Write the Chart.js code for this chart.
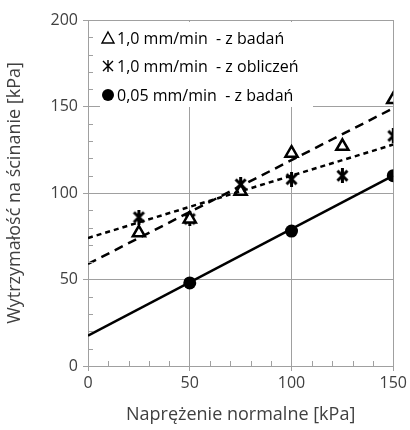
<!DOCTYPE html>
<html>
<head>
<meta charset="utf-8">
<script src="https://cdn.jsdelivr.net/npm/chart.js@4/dist/chart.umd.min.js"></script>
<style>
  html, body { margin: 0; padding: 0; background: #fff; }
  #wrap { width: 410px; height: 430px; position: relative; }
</style>
</head>
<body>
<div id="wrap"><canvas id="chart" width="410" height="430"></canvas></div>
<script>
// pomiary
const stress = [25, 50, 75, 100, 125, 150];
const badan10 = [77, 85, 101, 123, 127, 154];
const oblicz10 = [86, 85, 105, 108, 110, 133];
const stress005 = [50, 100, 150];
const badan005 = [48, 78, 110];

// linie trendu
const trendX = [0, 150];
const trendBadan10 = [59, 149];
const trendOblicz10 = [74, 128];
const trendBadan005 = [17.5, 110];

const labels = ['1,0 mm/min  - z badań', '1,0 mm/min  - z obliczeń', '0,05 mm/min  - z badań'];

const FONT = "'Open Sans', sans-serif";
const GRID = '#a0a0a0';

const pts = (xs, ys) => xs.map((x, i) => ({ x, y: ys[i] }));

function asteriskMarker(size, lw) {
    const c = document.createElement('canvas');
    c.width = size; c.height = size;
    const g = c.getContext('2d');
    g.strokeStyle = '#000';
    g.lineWidth = lw;
    const m = lw / 2, s = size - m;
    g.beginPath();
    g.moveTo(size / 2, 0); g.lineTo(size / 2, size);
    g.moveTo(m + 1, m + 1); g.lineTo(s - 1, s - 1);
    g.moveTo(s - 1, m + 1); g.lineTo(m + 1, s - 1);
    g.stroke();
    return c;
}
const astBig = asteriskMarker(15, 3);

const legendBox = {
    id: 'legendBox',
    afterDatasetsDraw(chart) {
        const { ctx, chartArea } = chart;
        const x0 = chartArea.left + 12, y0 = chartArea.top + 2;
        ctx.save();
        ctx.fillStyle = '#fff';
        ctx.fillRect(x0, y0, 213, 85);
        ctx.font = '16px ' + FONT;
        ctx.fillStyle = '#000';
        ctx.textBaseline = 'middle';
        const rows = [y0 + 16, y0 + 44, y0 + 73];
        const mx = x0 + 8;
        ctx.strokeStyle = '#000';
        ctx.lineWidth = 1.4;
        // trójkąt
        ctx.beginPath();
        ctx.moveTo(mx, rows[0] - 6); ctx.lineTo(mx + 6, rows[0] + 5); ctx.lineTo(mx - 6, rows[0] + 5); ctx.closePath();
        ctx.stroke();
        // gwiazdka
        ctx.beginPath();
        ctx.moveTo(mx, rows[1] - 6); ctx.lineTo(mx, rows[1] + 6);
        ctx.moveTo(mx - 5, rows[1] - 5); ctx.lineTo(mx + 5, rows[1] + 5);
        ctx.moveTo(mx + 5, rows[1] - 5); ctx.lineTo(mx - 5, rows[1] + 5);
        ctx.stroke();
        // kółko
        ctx.beginPath();
        ctx.arc(mx, rows[2], 6, 0, Math.PI * 2);
        ctx.fill();
        labels.forEach((t, i) => ctx.fillText(t, x0 + 17, rows[i] + 1));
        ctx.restore();
    }
};

const minorTicks = {
    id: 'minorTicks',
    afterDraw(chart) {
        const { ctx, chartArea, scales } = chart;
        ctx.save();
        ctx.strokeStyle = GRID;
        ctx.lineWidth = 1;
        ctx.beginPath();
        for (let v = 10; v < 200; v += 10) {
            if (v % 50 === 0) continue;
            const y = Math.round(scales.y.getPixelForValue(v)) + 0.5;
            ctx.moveTo(chartArea.left, y); ctx.lineTo(chartArea.left + 5, y);
        }
        for (let v = 10; v < 150; v += 10) {
            if (v % 50 === 0) continue;
            const x = Math.round(scales.x.getPixelForValue(v)) + 0.5;
            ctx.moveTo(x, chartArea.bottom); ctx.lineTo(x, chartArea.bottom - 5);
        }
        ctx.stroke();
        ctx.restore();
    }
};

new Chart(document.getElementById('chart'), {
    type: 'scatter',
    data: {
        datasets: [
            { label: 'trend1', data: pts(trendX, trendBadan10), showLine: true, borderColor: '#000', borderWidth: 2.5, borderDash: [9, 6], pointRadius: 0 },
            { label: 'trend2', data: pts(trendX, trendOblicz10), showLine: true, borderColor: '#000', borderWidth: 2.5, borderDash: [5, 4], pointRadius: 0 },
            { label: 'trend3', data: pts(trendX, trendBadan005), showLine: true, borderColor: '#000', borderWidth: 2.5, pointRadius: 0 },
            { label: labels[0], data: pts(stress, badan10), pointStyle: 'triangle', pointRadius: 7, borderColor: '#000', backgroundColor: '#fff', borderWidth: 2.5 },
            { label: labels[1], data: pts(stress, oblicz10), pointStyle: astBig, borderColor: '#000' },
            { label: labels[2], data: pts(stress005, badan005), pointStyle: 'circle', pointRadius: 6.5, borderColor: '#000', backgroundColor: '#000', borderWidth: 0 }
        ]
    },
    options: {
        responsive: false,
        animation: false,
        layout: { padding: { top: 20, right: 16, left: 0, bottom: 0 } },
        plugins: { legend: { display: false }, tooltip: { enabled: false } },
        scales: {
            x: {
                min: 0, max: 150,
                afterFit: s => { s.height = 64; },
                ticks: { stepSize: 50, color: '#404040', font: { family: FONT, size: 16 }, padding: 3, maxRotation: 0 },
                grid: { color: GRID, tickColor: GRID, tickLength: 5 },
                border: { color: GRID },
                title: { display: true, text: 'Naprężenie normalne [kPa]', color: '#404040', font: { family: FONT, size: 18 }, padding: { top: 0 } }
            },
            y: {
                min: 0, max: 200,
                afterFit: s => { s.width = 88; },
                ticks: { stepSize: 50, color: '#404040', font: { family: FONT, size: 16 }, padding: 5 },
                grid: { color: GRID, tickColor: GRID, tickLength: 5 },
                border: { color: GRID },
                title: { display: true, text: 'Wytrzymałość na ścinanie [kPa]', color: '#404040', font: { family: FONT, size: 18 }, padding: { bottom: 2 } }
            }
        }
    },
    plugins: [legendBox, minorTicks]
});
</script>
</body>
</html>
